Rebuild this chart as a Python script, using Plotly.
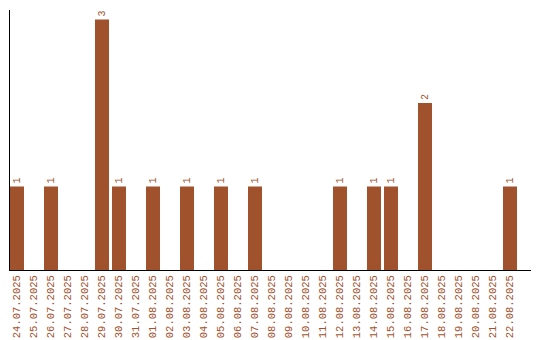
import plotly.graph_objects as go

dates = ["24.07.2025", "25.07.2025", "26.07.2025", "27.07.2025", "28.07.2025",
         "29.07.2025", "30.07.2025", "31.07.2025", "01.08.2025", "02.08.2025",
         "03.08.2025", "04.08.2025", "05.08.2025", "06.08.2025", "07.08.2025",
         "08.08.2025", "09.08.2025", "10.08.2025", "11.08.2025", "12.08.2025",
         "13.08.2025", "14.08.2025", "15.08.2025", "16.08.2025", "17.08.2025",
         "18.08.2025", "19.08.2025", "20.08.2025", "21.08.2025", "22.08.2025"]
counts = [1, 0, 1, 0, 0, 3, 1, 0, 1, 0, 1, 0, 1, 0, 1, 0, 0, 0, 0, 1,
          0, 1, 1, 0, 2, 0, 0, 0, 0, 1]
labels = [str(c) if c > 0 else "" for c in counts]

color = "#A0522D"
font_family = "Liberation Mono, monospace"

fig = go.Figure(go.Bar(
    x=dates, y=counts, text=labels, textposition="outside", textangle=-90,
    textfont=dict(family=font_family, size=10, color=color),
    marker=dict(color=color, line=dict(width=0)),
    cliponaxis=False, hoverinfo="skip",
))

fig.update_layout(
    width=540, height=340,
    margin=dict(l=10, r=9, t=10, b=70, autoexpand=False),
    paper_bgcolor="white", plot_bgcolor="white",
    bargap=3/17, showlegend=False,
)
fig.update_xaxes(
    type="category", range=[-7/17, -7/17 + 521/17], automargin=False,
    showline=True, linecolor="black", linewidth=1,
    showgrid=False, zeroline=False, ticks="",
    tickangle=-90, tickfont=dict(family=font_family, size=10.5, color=color),
)
fig.update_yaxes(
    range=[0, 260/83.5], showline=True, linecolor="black", linewidth=1,
    showgrid=False, zeroline=False, showticklabels=False, ticks="", automargin=False,
)

fig.write_html("out.html")
